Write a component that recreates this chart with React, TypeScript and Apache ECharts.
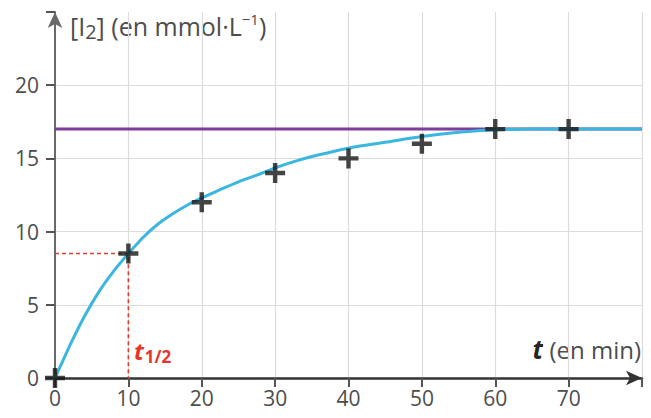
import React, { useEffect, useRef } from "react";
import * as echarts from "echarts";

const measureTimes = [0, 10, 20, 30, 40, 50, 60, 70];
const measureValues = [0, 8.5, 12, 14, 15, 16, 17, 17];

const curveTimes = [0, 1, 2, 4, 6, 8, 10, 12, 14, 16, 18, 20, 22, 25, 28, 30, 33, 36, 40, 45, 50, 55, 60, 65, 70, 75, 80];
const curveValues = [0, 1.1, 2.2, 4.2, 5.9, 7.3, 8.5, 9.6, 10.5, 11.2, 11.8, 12.3, 12.75, 13.4, 13.95, 14.35, 14.85, 15.25, 15.7, 16.1, 16.5, 16.78, 16.95, 17.0, 17.0, 17.0, 17.0];

const plateauTimes = [0, 80];
const plateauValues = [17, 17];

const halfTimeX = [0, 10, 10];
const halfTimeY = [8.5, 8.5, 0];

const xTicks = [0, 10, 20, 30, 40, 50, 60, 70];
const yTicks = [0, 5, 10, 15, 20];

const PLUS = "path://M-2,-9H2V-2H9V2H2V9H-2V2H-9V-2H-2Z";
const FONT = "'Open Sans', 'Noto Sans', sans-serif";
const GREY = "#4d4d4d";

export default function App() {
  const ref = useRef<HTMLDivElement>(null);
  useEffect(() => {
    if (!ref.current) return;
    const chart = echarts.init(ref.current, undefined, { renderer: "svg" });
    const zip = (xs: number[], ys: number[]) => xs.map((x, i) => [x, ys[i]]);
    chart.setOption({
      animation: false,
      backgroundColor: "#ffffff",
      grid: { left: 55, right: 9, top: 12, bottom: 40 },
      xAxis: {
        type: "value",
        min: 0,
        max: 80,
        interval: 10,
        axisLine: {
          show: true,
          symbol: ["none", "arrow"],
          symbolSize: [11, 16],
          lineStyle: { color: "#333333", width: 2.5 },
        },
        axisTick: { show: true, length: 9, lineStyle: { color: "#555555", width: 2 } },
        axisLabel: {
          margin: 9,
          fontSize: 21,
          color: GREY,
          fontFamily: FONT,
          formatter: (v: number) => (xTicks.includes(v) ? String(v) : ""),
        },
        splitLine: { show: true, lineStyle: { color: "#dcdcdc", width: 1.2 } },
      },
      yAxis: {
        type: "value",
        min: 0,
        max: 25,
        interval: 5,
        axisLine: {
          show: true,
          symbol: ["none", "arrow"],
          symbolSize: [11, 16],
          lineStyle: { color: "#6a6a6a", width: 2 },
        },
        axisTick: { show: true, length: 9, lineStyle: { color: "#555555", width: 2 } },
        axisLabel: {
          margin: 16,
          fontSize: 21,
          color: GREY,
          fontFamily: FONT,
          formatter: (v: number) => (yTicks.includes(v) ? String(v) : ""),
        },
        splitLine: {
          show: true,
          lineStyle: {
            color: ["#dcdcdc", "#dcdcdc", "#dcdcdc", "#dcdcdc", "#dcdcdc", "rgba(0,0,0,0)"],
            width: 1.2,
          },
        },
      },
      series: [
        {
          type: "line",
          data: zip(plateauTimes, plateauValues),
          symbol: "none",
          lineStyle: { color: "#7b3f9b", width: 3 },
          z: 2,
        },
        {
          type: "line",
          data: zip(halfTimeX, halfTimeY),
          symbol: "none",
          lineStyle: { color: "#d8402c", width: 1.6, type: [4, 3] },
          z: 3,
        },
        {
          type: "line",
          data: zip(curveTimes, curveValues),
          smooth: 0.3,
          symbol: "none",
          lineStyle: { color: "#3ab6df", width: 3 },
          z: 4,
        },
        {
          type: "scatter",
          data: zip(measureTimes, measureValues),
          symbol: PLUS,
          symbolSize: 20,
          itemStyle: { color: "#161616" },
          z: 5,
        },
      ],
      graphic: [
        {
          type: "text",
          left: 70,
          top: 11,
          style: {
            text: "{n|[I}{sub|2}{n|] (en mmol·L}{sup|−1}{n|)}",
            rich: {
              n: { fontSize: 25, fontFamily: FONT, fill: GREY },
              sub: { fontSize: 20, fontFamily: FONT, fill: GREY, verticalAlign: "bottom", padding: [10, 0, 0, 0] },
              sup: { fontSize: 15, fontFamily: FONT, fill: GREY, verticalAlign: "top", padding: [0, 0, 10, 0] },
            },
          },
        },
        {
          type: "text",
          right: 10,
          top: 336,
          style: {
            text: "{t|t}{n| (en min)}",
            rich: {
              n: { fontSize: 24, fontFamily: FONT, fill: GREY, backgroundColor: "#ffffff" },
              t: { fontSize: 26, fontFamily: FONT, fontStyle: "italic", fontWeight: "bold", fill: "#262626" },
            },
          },
        },
        {
          type: "text",
          left: 134,
          top: 338,
          style: {
            text: "{t|t}{s|1/2}",
            rich: {
              t: { fontSize: 24, fontFamily: FONT, fontStyle: "italic", fontWeight: "bold", fill: "#e8352b" },
              s: { fontSize: 17, fontFamily: FONT, fontWeight: "bold", fill: "#e8352b", verticalAlign: "bottom", padding: [12, 0, 0, 1] },
            },
          },
        },
      ],
    });
    return () => chart.dispose();
  }, []);
  return (
    <div
      ref={ref}
      style={{ position: "fixed", left: 0, top: 0, width: 651, height: 418 }}
    />
  );
}
